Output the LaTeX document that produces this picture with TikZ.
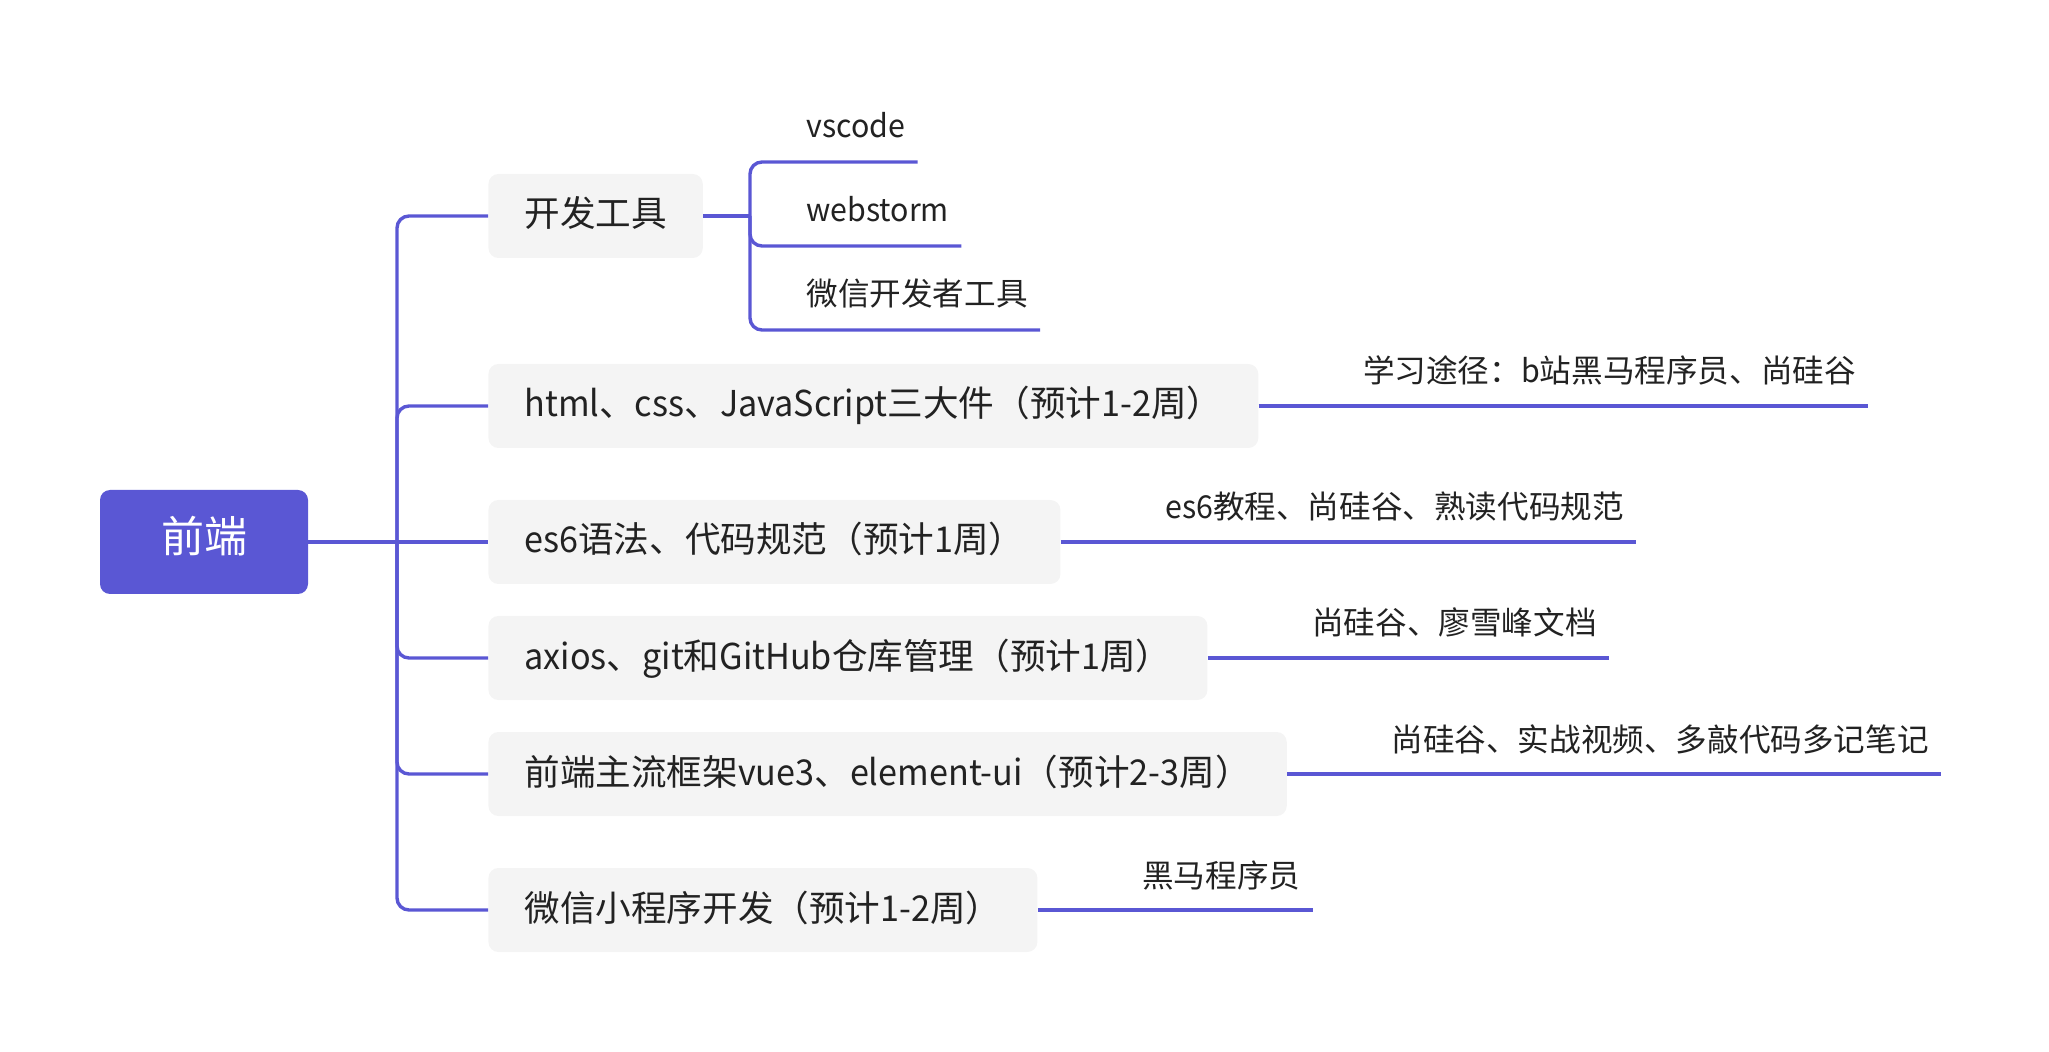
\documentclass[tikz,border=0pt]{standalone}
\usepackage{fontspec}
\setmainfont{Noto Sans CJK SC}
\newfontfamily\lat[FakeStretch=0.96]{Noto Sans CJK SC}
\newcommand{\La}[1]{{\lat #1}}
\usetikzlibrary{calc}
\definecolor{brand}{RGB}{90,87,212}
\definecolor{boxgray}{RGB}{244,244,244}
\definecolor{ink}{RGB}{34,34,34}
\tikzset{
  branch/.style={draw=brand, line width=1.7pt},
  rootbox/.style={fill=brand, rounded corners=5pt, text=white, minimum width=104pt, minimum height=52pt,
    inner sep=0pt, font=\fontsize{21.5pt}{24pt}\selectfont, text height=1.1em, text depth=0em},
  mainbox/.style={fill=boxgray, rounded corners=5pt, anchor=west, inner xsep=18pt, inner ysep=0pt,
    minimum height=42pt, text=ink, font=\fontsize{17.8pt}{20pt}\selectfont, text height=1.1em, text depth=0em},
  leaf/.style={anchor=west, inner xsep=6pt, inner ysep=0pt, text=ink,
    font=\fontsize{15.8pt}{18pt}\selectfont, text height=1.1em, text depth=0em},
}
\begin{document}
\begin{tikzpicture}[x=0.5pt, y=-0.5pt]
\useasboundingbox (0,0) rectangle (2049,1052);
% root
\node[rootbox] (root) at (204,542) {前端};
% main boxes
\node[mainbox] (b1) at (488,216) {开发工具};
\node[mainbox] (b2) at (488,406) {\La{html}、\La{css}、\La{JavaScript}三大件（预计\La{1-2}周）};
\node[mainbox] (b3) at (488,542) {\La{es6}语法、代码规范（预计\La{1}周）};
\node[mainbox] (b4) at (488,658) {\La{axios}、\La{git}和\La{GitHub}仓库管理（预计\La{1}周）};
\node[mainbox] (b5) at (488,774) {前端主流框架\La{vue3}、\La{element-ui}（预计\La{2-3}周）};
\node[mainbox] (b6) at (488,910) {微信小程序开发（预计\La{1-2}周）};
% trunk
\coordinate (t) at (397,542);
\draw[branch] (root.east) -- (b3.west);
\draw[branch, rounded corners=6pt] (b1.west) -| (t) |- (b6.west);
\draw[branch, rounded corners=6pt] (t) |- (b2.west);
\draw[branch, rounded corners=6pt] (t) |- (b4.west);
\draw[branch, rounded corners=6pt] (t) |- (b5.west);
% dev tools children
\node[leaf] (k1a) at (794,127) {\La{vscode}};
\node[leaf] (k1b) at (794,211) {\La{webstorm}};
\node[leaf] (k1c) at (794,295) {微信开发者工具};
\coordinate (j1) at (750,216);
\draw[branch] (b1.east) -- (j1);
\draw[branch, rounded corners=6pt] ($(k1a.east)+(0,35)$) -| (j1) |- ($(k1c.east)+(0,35)$);
\draw[branch, rounded corners=6pt] (j1) |- ($(k1b.east)+(0,35)$);
% other leaves
\node[leaf] (k2) at ([xshift=46pt, yshift=17pt]b2.east) {学习途径：\La{b}站黑马程序员、尚硅谷};
\node[leaf] (k3) at ([xshift=46pt, yshift=17pt]b3.east) {\La{es6}教程、尚硅谷、熟读代码规范};
\node[leaf] (k4) at ([xshift=46pt, yshift=17pt]b4.east) {尚硅谷、廖雪峰文档};
\node[leaf] (k5) at ([xshift=46pt, yshift=17pt]b5.east) {尚硅谷、实战视频、多敲代码多记笔记};
\node[leaf] (k6) at ([xshift=46pt, yshift=17pt]b6.east) {黑马程序员};
\draw[branch] (b2.east) -- (b2.east -| k2.east);
\draw[branch] (b3.east) -- (b3.east -| k3.east);
\draw[branch] (b4.east) -- (b4.east -| k4.east);
\draw[branch] (b5.east) -- (b5.east -| k5.east);
\draw[branch] (b6.east) -- (b6.east -| k6.east);
\end{tikzpicture}
\end{document}
